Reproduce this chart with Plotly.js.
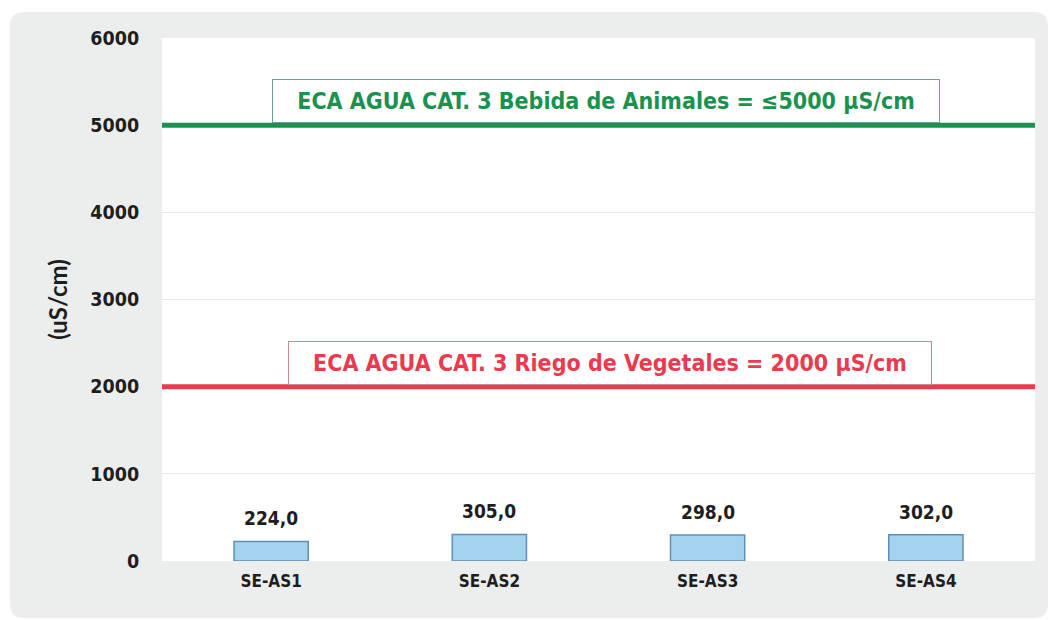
<!DOCTYPE html>
<html>
<head>
<meta charset="utf-8">
<script src="https://cdn.plot.ly/plotly-3.0.1.min.js"></script>
<style>html,body{margin:0;padding:0;background:#fff;}#chart{width:1053px;height:620px;}</style>
</head>
<body>
<div id="chart"></div>
<script>
var categories = ["SE-AS1", "SE-AS2", "SE-AS3", "SE-AS4"];
var values = [224.0, 305.0, 298.0, 302.0];
var limitValues = [5000, 2000];
var limitLabels = [
  "ECA AGUA CAT. 3 Bebida de Animales = \u22645000 \u00b5S/cm",
  "ECA AGUA CAT. 3 Riego de Vegetales = 2000 \u00b5S/cm"
];
var limitColors = ["#1b9150", "#ea3a50"];
var limitBorders = ["#6f9f94", "#c98a92"];
var yTicks = [0, 1000, 2000, 3000, 4000, 5000, 6000];

var W = 1053, H = 620;
var M = {l: 162, r: 18, t: 38, b: 59};
var pw = W - M.l - M.r, ph = H - M.t - M.b;
function px2x(p){ return (p - M.l) / pw; }
function py2y(p){ return (H - M.b - p) / ph; }

// rounded gray card
var x0 = px2x(10), x1 = px2x(1048), yTop = py2y(12), yBot = py2y(618);
var rx = 14 / pw, ry = 14 / ph;
var cardPath = "M " + (x0 + rx) + "," + yTop +
  " L " + (x1 - rx) + "," + yTop +
  " Q " + x1 + "," + yTop + " " + x1 + "," + (yTop - ry) +
  " L " + x1 + "," + (yBot + ry) +
  " Q " + x1 + "," + yBot + " " + (x1 - rx) + "," + yBot +
  " L " + (x0 + rx) + "," + yBot +
  " Q " + x0 + "," + yBot + " " + x0 + "," + (yBot + ry) +
  " L " + x0 + "," + (yTop - ry) +
  " Q " + x0 + "," + yTop + " " + (x0 + rx) + "," + yTop + " Z";

var fontMain = "DejaVu Sans Condensed, DejaVu Sans, sans-serif";

var shapes = [
  {type: "path", xref: "paper", yref: "paper", path: cardPath, fillcolor: "#eceeee", line: {width: 0}, layer: "below"},
  {type: "rect", xref: "x domain", yref: "y domain", x0: 0, x1: 1, y0: 0, y1: 1, fillcolor: "#ffffff", line: {width: 0}, layer: "below"}
];
limitValues.forEach(function(v, i){
  shapes.push({type: "line", xref: "paper", yref: "y", x0: 0, x1: 1, y0: v, y1: v,
    line: {color: limitColors[i], width: 5}, layer: "above"});
});

var annotations = [];
var boxCenters = [606, 610];
var boxWidths = [664, 640];
limitValues.forEach(function(v, i){
  annotations.push({
    xref: "paper", yref: "y", x: px2x(boxCenters[i]), y: v, xanchor: "center", yanchor: "bottom",
    yshift: 2,
    text: "<b>" + limitLabels[i] + "</b>", showarrow: false,
    font: {family: fontMain, size: 23, color: limitColors[i]},
    bgcolor: "#ffffff", bordercolor: limitBorders[i], borderwidth: 1, borderpad: 1,
    width: boxWidths[i], height: 40
  });
});
categories.forEach(function(c, i){
  annotations.push({
    xref: "x", yref: "y", x: c, y: values[i], xanchor: "center", yanchor: "bottom",
    yshift: 10, showarrow: false,
    text: "<b>" + values[i].toFixed(1).replace(".", ",") + "</b>",
    font: {family: fontMain, size: 19, color: "#1e1e1e"}
  });
});

var trace = {
  type: "bar", x: categories, y: values,
  marker: {color: "#a3d3ef", line: {color: "#5f8fb5", width: 1.5}},
  hoverinfo: "skip"
};

var layout = {
  width: W, height: H,
  margin: M,
  paper_bgcolor: "#ffffff",
  plot_bgcolor: "rgba(0,0,0,0)",
  showlegend: false,
  bargap: 0.66,
  separators: ",.",
  xaxis: {
    showgrid: false, zeroline: false, showline: false,
    ticks: "outside", ticklen: 5, tickcolor: "rgba(0,0,0,0)",
    tickfont: {family: fontMain, size: 17, color: "#1e1e1e", weight: "bold"}
  },
  yaxis: {
    range: [0, 6000], tickvals: yTicks, ticktext: yTicks.map(String),
    showgrid: true, gridcolor: "#e6e8e8", gridwidth: 1, zeroline: false, showline: false,
    ticks: "outside", ticklen: 18, tickcolor: "rgba(0,0,0,0)",
    tickfont: {family: fontMain, size: 19.5, color: "#1e1e1e", weight: "bold"},
    title: {text: "<b>(uS/cm)</b>", standoff: 15, font: {family: "Lato, Open Sans, sans-serif", size: 24, color: "#1e1e1e"}}
  },
  shapes: shapes,
  annotations: annotations
};

Plotly.newPlot("chart", [trace], layout, {displayModeBar: false, staticPlot: true});
</script>
</body>
</html>
